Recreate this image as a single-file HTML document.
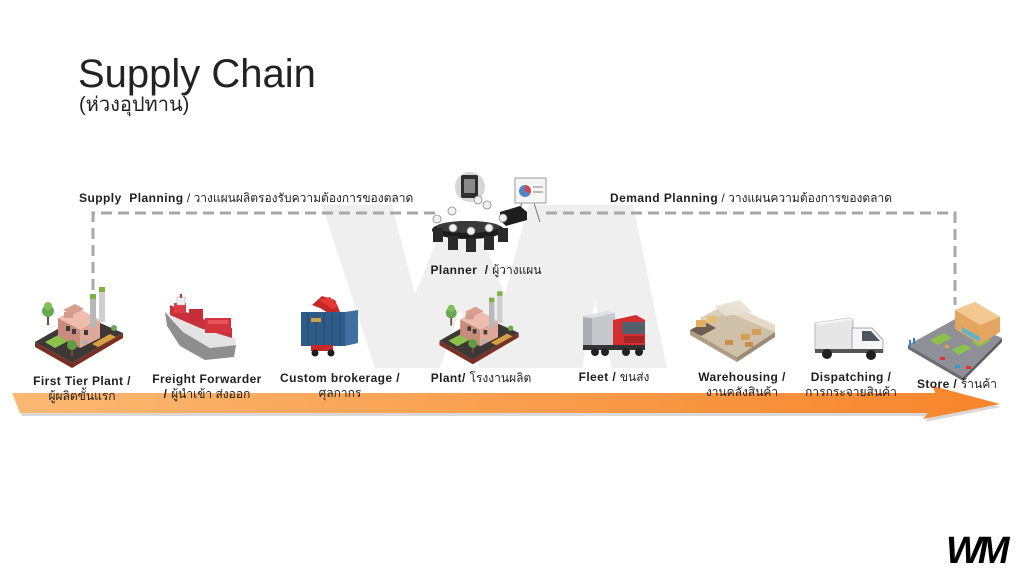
<!DOCTYPE html>
<html>
<head>
<meta charset="utf-8">
<style>
  html,body{margin:0;padding:0;background:#fff;}
  #stage{position:relative;width:1024px;height:576px;overflow:hidden;background:#fff;
    font-family:"Liberation Sans","Noto Sans CJK SC",sans-serif;color:#1f1f1f;}
  svg{position:absolute;left:0;top:0;}
  .t{position:absolute;white-space:nowrap;}
  .t b{letter-spacing:0.45px;}
  .lbl{position:absolute;width:160px;margin-left:-80px;text-align:center;font-size:12px;line-height:15px;font-weight:bold;letter-spacing:0.4px;color:#1f1f1f;}
  .lbl .th{font-weight:normal;letter-spacing:0;}
</style>
</head>
<body>
<div id="stage">
<svg width="1024" height="576" viewBox="0 0 1024 576" xmlns="http://www.w3.org/2000/svg">
  <defs>
    <linearGradient id="arr" x1="0" y1="0" x2="1" y2="0">
      <stop offset="0" stop-color="#fbb872"/>
      <stop offset="1" stop-color="#f7852b"/>
    </linearGradient>
  </defs>

  <!-- watermark -->
  <g fill="#efefef">
    <polygon points="322,205 392,205 415,295 440,232 480,232 505,295 528,205 598,205 545,368 480,368 460,310 440,368 375,368"/>
    <polygon points="575,205 633,205 667,368 612,368 595,300 582,368 545,368"/>
  </g>

  <!-- dashed planning line -->
  <g stroke="#a8a8a8" stroke-width="3" fill="none" stroke-dasharray="11 6">
    <polyline points="93,290 93,213 440,213"/>
    <polyline points="546,213 955,213 955,305"/>
  </g>

  <!-- arrow shadow -->
  <polygon points="14,396 936,396 934,389 1001,407 925,422 930,416 22,416" fill="#b9b9b9" opacity="0.55"/>
  <!-- arrow -->
  <polygon points="12,393 935,393 933,386 1000,404 923,419 928,413 20,413" fill="url(#arr)"/>

  <!-- Planner illustration -->
  <g>
    <circle cx="470" cy="187" r="15" fill="#d6d6d6"/>
    <rect x="461" y="175" width="17" height="23" rx="2" fill="#2e2e2e"/>
    <rect x="464" y="179" width="11" height="14" fill="#8a8a8a"/>
    <line x1="522" y1="203" x2="516" y2="222" stroke="#777" stroke-width="1"/>
    <line x1="534" y1="203" x2="540" y2="222" stroke="#777" stroke-width="1"/>
    <rect x="515" y="178" width="31" height="25" fill="#f6f6f6" stroke="#9a9a9a" stroke-width="1"/>
    <circle cx="525" cy="191" r="6" fill="#4a86c8"/>
    <path d="M525,191 L525,185 A6,6 0 0 1 530,194 Z" fill="#e04040"/>
    <rect x="533" y="186" width="10" height="2" fill="#bbb"/>
    <rect x="533" y="191" width="10" height="2" fill="#bbb"/>
    <polygon points="500,212 520,206 527,212 527,220 506,226 500,220" fill="#1e1e1e"/>
    <ellipse cx="468" cy="230" rx="36" ry="9" fill="#1b1b1b"/>
    <ellipse cx="468" cy="227" rx="32" ry="6" fill="#3a3a3a"/>
    <g fill="#2a2a2a">
      <rect x="433" y="228" width="10" height="14"/>
      <rect x="448" y="236" width="10" height="14"/>
      <rect x="466" y="238" width="10" height="14"/>
      <rect x="484" y="236" width="10" height="14"/>
      <rect x="498" y="228" width="10" height="14"/>
    </g>
    <g fill="#f2f2f2" stroke="#8a8a8a" stroke-width="0.8">
      <circle cx="437" cy="219" r="4"/>
      <circle cx="452" cy="211" r="4"/>
      <circle cx="487" cy="205" r="4"/>
      <circle cx="503" cy="218" r="4"/>
      <circle cx="453" cy="228" r="4"/>
      <circle cx="471" cy="231" r="4"/>
      <circle cx="489" cy="228" r="4"/>
      <circle cx="478" cy="200" r="4"/>
    </g>
  </g>

  <!-- Plant icon (first tier) -->
  <g id="plant">
    <polygon points="35,342 72,363 123,333 123,338 72,368 35,347" fill="#7a2f22"/>
    <polygon points="35,342 82,315 123,333 72,363" fill="#3d3835"/>
    <polygon points="45,342 60,334 70,340 55,348" fill="#8bc34a"/>
    <polygon points="92,344 110,334 116,337 98,347" fill="#d8a040"/>
    <polygon points="58,318 80,330 80,348 58,336" fill="#c98b7c"/>
    <polygon points="80,330 100,320 100,338 80,348" fill="#e0a898"/>
    <polygon points="58,318 78,308 100,320 80,330" fill="#efbdad"/>
    <polygon points="63,310 75,304 84,309 72,315" fill="#d89f90"/>
    <rect x="64" y="312" width="9" height="6" fill="#d39a8b"/>
    <rect x="66" y="326" width="4" height="5" fill="#3c3c3c"/>
    <rect x="72" y="329" width="4" height="5" fill="#3c3c3c"/>
    <rect x="84" y="330" width="4" height="5" fill="#3c3c3c"/>
    <rect x="90" y="297" width="6" height="30" fill="#b8b8b8"/>
    <rect x="90" y="294" width="6" height="5" fill="#7cb342"/>
    <rect x="99" y="290" width="6" height="32" fill="#cfcfcf"/>
    <rect x="99" y="287" width="6" height="5" fill="#7cb342"/>
    <rect x="47" y="315" width="2" height="10" fill="#6d4c2f"/>
    <circle cx="48" cy="311" r="6" fill="#6aa84f"/>
    <circle cx="48" cy="306" r="4" fill="#7cbf5a"/>
    <rect x="71" y="348" width="2" height="8" fill="#6d4c2f"/>
    <circle cx="72" cy="345" r="5" fill="#5f9e3f"/>
    <circle cx="114" cy="328" r="3" fill="#6aa84f"/>
    <rect x="82" y="340" width="6" height="4" fill="#b0b0b0"/>
  </g>
  <!-- Plant icon (plant) -->
  <use href="#plant" transform="translate(408,33) scale(0.9)"/>

  <!-- Ship -->
  <g>
    <polygon points="165,312 183,332 210,348 236,345 234,357 205,360 180,346 167,326" fill="#8e8e8e"/>
    <polygon points="167,312 235,338 236,345 210,348 183,332" fill="#e3e3e3"/>
    <polygon points="170,305 200,318 232,328 232,338 200,328 170,315" fill="#c8303a"/>
    <rect x="174" y="303" width="12" height="10" fill="#d83c44"/>
    <rect x="189" y="309" width="14" height="12" fill="#c52e37"/>
    <rect x="205" y="318" width="26" height="15" fill="#d4343d"/>
    <rect x="208" y="320" width="20" height="4" fill="#e8555c"/>
    <rect x="177" y="297" width="8" height="8" fill="#f0f0f0" stroke="#aaa" stroke-width="0.5"/>
    <rect x="180" y="294" width="2" height="4" fill="#c8303a"/>
  </g>

  <!-- Container -->
  <g>
    <polygon points="312,305 322,296 335,300 340,312 330,314 320,308" fill="#c62828"/>
    <polygon points="318,300 330,297 338,306 333,309" fill="#e53935"/>
    <rect x="301" y="312" width="44" height="34" fill="#2e5b87"/>
    <polygon points="345,312 358,310 358,343 345,346" fill="#3f6f9f"/>
    <g stroke="#244a70" stroke-width="1">
      <line x1="308" y1="313" x2="308" y2="345"/>
      <line x1="316" y1="313" x2="316" y2="345"/>
      <line x1="324" y1="313" x2="324" y2="345"/>
      <line x1="332" y1="313" x2="332" y2="345"/>
      <line x1="340" y1="313" x2="340" y2="345"/>
    </g>
    <rect x="311" y="318" width="10" height="4" fill="#c9a24a"/>
    <rect x="311" y="345" width="22" height="6" fill="#c62828"/>
    <circle cx="315" cy="353" r="3.5" fill="#1e1e1e"/>
    <circle cx="331" cy="353" r="3.5" fill="#1e1e1e"/>
  </g>

  <!-- Fleet truck -->
  <g>
    <polygon points="583,316 607,311 615,313 615,345 583,345" fill="#c5c9ce"/>
    <polygon points="583,316 607,311 615,313 592,318" fill="#e0e3e6"/>
    <rect x="583" y="318" width="9" height="27" fill="#a9aeb4"/>
    <polygon points="613,320 636,315 645,320 645,347 613,347" fill="#d32f2f"/>
    <polygon points="622,322 645,322 645,334 622,334" fill="#56606b"/>
    <rect x="624" y="336" width="20" height="7" fill="#a82424"/>
    <rect x="583" y="345" width="62" height="5" fill="#333"/>
    <circle cx="595" cy="352" r="4" fill="#222"/>
    <circle cx="605" cy="352" r="4" fill="#222"/>
    <circle cx="626" cy="352" r="4" fill="#222"/>
    <circle cx="639" cy="352" r="4" fill="#222"/>
  </g>

  <!-- Warehouse -->
  <g>
    <polygon points="690,330 737,357 737,362 690,335" fill="#b09c84"/>
    <polygon points="737,357 775,332 775,337 737,362" fill="#9c8a74"/>
    <polygon points="690,330 728,312 775,332 737,357" fill="#cfc0aa"/>
    <polygon points="728,312 728,303 775,325 775,332" fill="#e6dac6"/>
    <polygon points="700,318 728,303 728,312 703,324" fill="#ddd0bb"/>
    <polygon points="715,306 740,300 752,312 725,316" fill="#e9e1d2" opacity="0.9"/>
    <polygon points="690,330 705,322 716,328 701,336" fill="#6d5d50"/>
    <rect x="696" y="320" width="10" height="7" fill="#e0b060"/>
    <rect x="707" y="316" width="10" height="7" fill="#e6bd73"/>
    <rect x="741" y="334" width="9" height="6" fill="#d49e55"/>
    <rect x="752" y="329" width="9" height="6" fill="#d49e55"/>
    <rect x="745" y="342" width="8" height="5" fill="#c98f4a"/>
    <rect x="725" y="340" width="8" height="5" fill="#c98f4a"/>
  </g>

  <!-- Dispatch truck -->
  <g>
    <polygon points="815,323 849,318 853,320 853,350 815,350" fill="#e6e6e6" stroke="#b8b8b8" stroke-width="1"/>
    <polygon points="815,323 849,318 853,320 819,325" fill="#f4f4f4"/>
    <polygon points="852,328 872,328 883,340 883,352 852,352" fill="#f5f5f5" stroke="#a8a8a8" stroke-width="1"/>
    <polygon points="862,331 871,331 880,341 862,341" fill="#4e5560"/>
    <rect x="815" y="349" width="68" height="4" fill="#555"/>
    <circle cx="827" cy="354" r="5" fill="#1f1f1f"/>
    <circle cx="871" cy="355" r="5" fill="#1f1f1f"/>
  </g>

  <!-- Store -->
  <g>
    <polygon points="908,345 963,377 963,381 908,349" fill="#6d6d74"/>
    <polygon points="963,377 1002,338 1002,342 963,381" fill="#5d5d64"/>
    <polygon points="908,345 957,318 1002,338 963,377" fill="#8f8f97"/>
    <polygon points="930,340 944,333 952,338 938,345" fill="#8bc34a"/>
    <polygon points="952,350 964,344 971,348 959,355" fill="#8bc34a"/>
    <polygon points="972,342 984,336 991,340 979,347" fill="#8bc34a"/>
    <polygon points="955,310 975,302 1000,317 1000,332 980,344 955,329" fill="#e3a55f"/>
    <polygon points="955,310 975,302 1000,317 980,325" fill="#f3c890"/>
    <polygon points="962,327 980,337 980,342 962,332" fill="#5cb8c9"/>
    <rect x="940" y="357" width="5" height="3" fill="#d33"/>
    <rect x="955" y="365" width="5" height="3" fill="#39c"/>
    <rect x="966" y="366" width="5" height="3" fill="#d33"/>
    <rect x="945" y="345" width="4" height="3" fill="#e8a040"/>
    <rect x="909" y="340" width="2" height="6" fill="#2f7fd0"/>
    <rect x="913" y="338" width="2" height="6" fill="#2f7fd0"/>
  </g>
</svg>

<div class="t" style="left:78px;top:54px;font-size:40px;line-height:40px;color:#222;">Supply Chain</div>
<div class="t" style="left:79px;top:93px;font-size:20px;line-height:24px;color:#222;">(ห่วงอุปทาน)</div>

<div class="t" style="left:79px;top:190px;font-size:12px;line-height:16px;"><b>Supply&nbsp; Planning</b> / วางแผนผลิตรองรับความต้องการของตลาด</div>
<div class="t" style="left:610px;top:190px;font-size:12px;line-height:16px;"><b>Demand Planning</b> / วางแผนความต้องการของตลาด</div>

<div class="lbl" style="left:486px;top:263px;">Planner&nbsp; / <span class="th">ผู้วางแผน</span></div>

<div class="lbl" style="left:82px;top:374px;">First Tier Plant /<br><span class="th">ผู้ผลิตขั้นแรก</span></div>
<div class="lbl" style="left:207px;top:372px;">Freight Forwarder<br>/ <span class="th">ผู้นำเข้า ส่งออก</span></div>
<div class="lbl" style="left:340px;top:371px;">Custom brokerage /<br><span class="th">ศุลกากร</span></div>
<div class="lbl" style="left:481px;top:371px;">Plant/ <span class="th">โรงงานผลิต</span></div>
<div class="lbl" style="left:614px;top:370px;">Fleet / <span class="th">ขนส่ง</span></div>
<div class="lbl" style="left:742px;top:370px;">Warehousing /<br><span class="th">งานคลังสินค้า</span></div>
<div class="lbl" style="left:851px;top:370px;">Dispatching /<br><span class="th">การกระจายสินค้า</span></div>
<div class="lbl" style="left:957px;top:377px;">Store / <span class="th">ร้านค้า</span></div>

<div class="t" style="left:946px;top:531px;font-size:38px;line-height:40px;font-weight:bold;font-style:italic;letter-spacing:-4px;color:#000;">WM</div>
</div>
</body>
</html>
